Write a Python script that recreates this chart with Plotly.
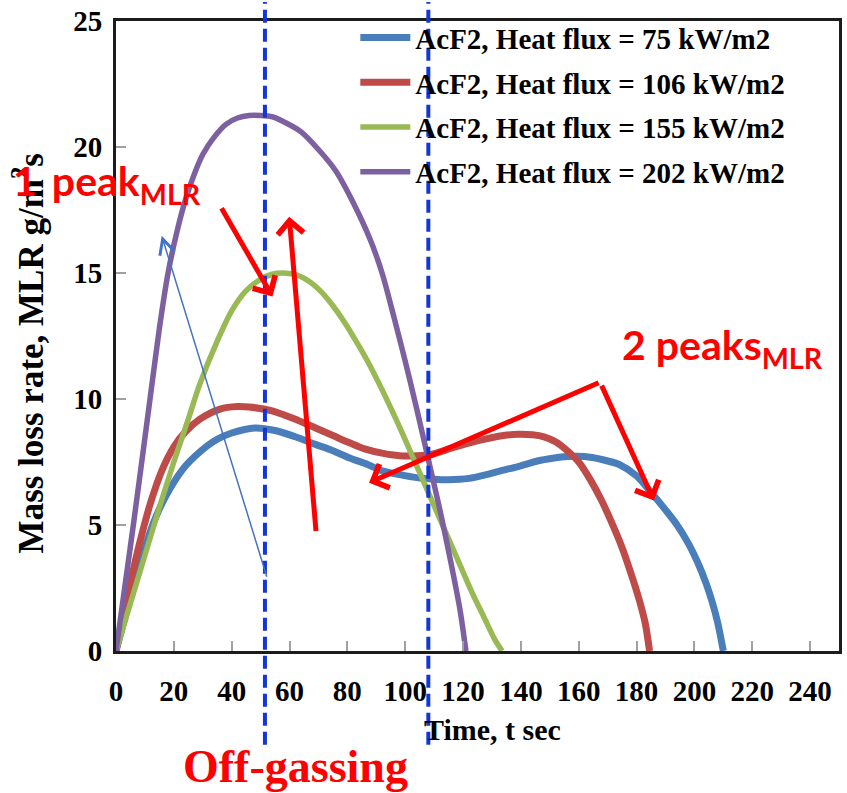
import plotly.graph_objects as go

# Mass loss rate of AcF2 at four heat fluxes
t_75 = [0, 3, 6, 10, 13, 17, 23, 29, 35, 40, 48, 55, 62, 69, 75, 81, 87, 92, 98, 104,
        110, 115, 122, 128, 133, 140, 146, 151, 156, 162, 168, 174, 180, 185, 190, 194,
        198, 201, 204, 206, 208, 210]
mlr_75 = [0, 1.3, 2.6, 4.1, 5.1, 6.1, 7.2, 7.9, 8.4, 8.65, 8.85, 8.75, 8.5, 8.2, 7.95, 7.65,
          7.4, 7.15, 7.0, 6.88, 6.82, 6.8, 6.85, 7.0, 7.15, 7.35, 7.55, 7.65, 7.72, 7.72,
          7.6, 7.4, 6.95, 6.3, 5.6, 5.0, 4.25, 3.55, 2.7, 2.0, 1.15, 0]

t_106 = [0, 4, 8, 12, 16, 20, 24, 29, 36, 42, 46, 54, 63, 69, 75, 81, 86, 92, 98, 104,
         109, 116, 122, 128, 134, 139, 144, 148, 152, 156, 160, 164, 168, 171, 175, 178,
         181, 183, 184.5]
mlr_106 = [0, 2.2, 4.2, 5.9, 7.2, 8.1, 8.7, 9.2, 9.6, 9.7, 9.68, 9.53, 9.15, 8.85, 8.55,
           8.25, 8.02, 7.85, 7.75, 7.75, 7.8, 8.05, 8.25, 8.42, 8.55, 8.6, 8.58, 8.5, 8.3,
           7.95, 7.5, 6.8, 5.95, 5.2, 4.1, 3.1, 2.0, 1.1, 0]

t_155 = [0, 5, 10, 15, 20, 25, 29, 35, 40, 45, 50, 54, 58, 63, 67, 71, 75, 79, 83, 87,
         91, 95, 99, 103, 107, 111, 115, 119, 123, 127, 131, 133.5]
mlr_155 = [0, 1.9, 3.8, 5.7, 7.5, 9.2, 10.6, 12.3, 13.5, 14.3, 14.75, 14.95, 15.0, 14.9,
           14.65, 14.25, 13.7, 13.05, 12.3, 11.5, 10.6, 9.65, 8.65, 7.6, 6.55, 5.5, 4.45,
           3.4, 2.35, 1.4, 0.45, 0]

t_202 = [0, 6, 12, 15, 18, 21, 24, 27, 30, 34, 38, 42, 46, 50, 54, 58, 64, 70, 76, 82,
         88, 92, 96, 100, 104, 108, 112, 116, 119, 121]
mlr_202 = [0, 5.0, 10.2, 12.8, 15.0, 16.6, 17.9, 18.9, 19.7, 20.4, 20.9, 21.15, 21.25,
           21.25, 21.2, 21.0, 20.6, 19.9, 19.05, 17.8, 16.3, 15.0, 13.3, 11.5, 9.6, 7.6,
           5.6, 3.4, 1.6, 0]

series_names = ["AcF2, Heat flux = 75 kW/m2", "AcF2, Heat flux = 106 kW/m2",
                "AcF2, Heat flux = 155 kW/m2", "AcF2, Heat flux = 202 kW/m2"]
series_colors = ["#4a7ebb", "#be4b48", "#98b954", "#7d60a0"]
series_widths = [7, 7, 5.5, 5.5]

# Start and end of the off-gassing stage (s)
offgas_bounds = [51.5, 108]

x_ticks = list(range(0, 241, 20))
y_ticks = [0, 5, 10, 15, 20, 25]

SERIF = "Liberation Serif, Times New Roman, serif"
SANS = "Lato, Calibri, sans-serif"
RED = "#ff0000"

fig = go.Figure()
for name, t, v, color, w in zip(series_names, [t_75, t_106, t_155, t_202],
                                [mlr_75, mlr_106, mlr_155, mlr_202],
                                series_colors, series_widths):
    fig.add_trace(go.Scatter(
        x=t, y=v, mode="lines", name=name, legendgroup=name,
        line=dict(color=color, width=w, shape="spline", smoothing=0.8),
    ))

# Dashed markers for the off-gassing window, running past the plot area
for xb in offgas_bounds:
    fig.add_shape(type="line", xref="x", yref="paper", x0=xb, x1=xb, y0=-0.149, y1=1.03,
                  line=dict(color="#1236d8", width=4, dash="13px,6px"), layer="above")

axis_common = dict(
    showline=True, linewidth=3, linecolor="#1c1c1c", mirror=True,
    ticks="inside", ticklen=10, tickwidth=1.5, tickcolor="#a0a0a0",
    showgrid=False, zeroline=False,
    tickfont=dict(family=SERIF, size=29, color="black", weight="bold"),
)

fig.update_layout(
    width=847, height=793,
    margin=dict(l=116, r=5, t=18, b=142),
    paper_bgcolor="white", plot_bgcolor="white",
    xaxis=dict(range=[0, 250], tickvals=x_ticks, ticklabelstandoff=12, **axis_common),
    yaxis=dict(range=[0, 25], tickvals=y_ticks, ticklabelstandoff=5, **axis_common),
    legend=dict(x=0.331, y=1.014, xanchor="left", yanchor="top",
                bgcolor="rgba(255,255,255,0)", borderwidth=0,
                font=dict(family=SERIF, size=29, color="black", weight="bold"),
                tracegroupgap=4, itemwidth=50),
    showlegend=True,
)

title_font = dict(family=SERIF, color="black", weight="bold")
annotations = [
    # axis titles first, so the red labels sit on top of them
    dict(text="Mass loss rate, MLR g/m<sup>2</sup>s", xref="paper", yref="paper",
         x=-0.1212, y=0.473, xanchor="center", yanchor="middle", textangle=-90,
         showarrow=False, font=dict(size=35, **title_font)),
    dict(text="Time, t sec", xref="paper", yref="paper", x=0.5207, y=-0.1249,
         xanchor="center", yanchor="middle", showarrow=False,
         font=dict(size=30, **title_font)),
    dict(text="1 \u2009peak<sub>MLR</sub>", xref="paper", yref="paper", x=-0.145, y=0.742,
         xanchor="left", yanchor="middle", showarrow=False,
         font=dict(family=SANS, size=41, color=RED, weight="bold")),
    dict(text="2 peaks<sub>MLR</sub>", xref="paper", yref="paper", x=0.697, y=0.482,
         xanchor="left", yanchor="middle", showarrow=False,
         font=dict(family=SANS, size=41, color=RED, weight="bold")),
    dict(text="Off-gassing", xref="paper", yref="paper", x=0.248, y=-0.183,
         xanchor="center", yanchor="middle", showarrow=False, borderpad=0,
         font=dict(family=SERIF, size=46, color=RED, weight="bold")),
]

# Pointer arrows (tail -> head) in data coordinates
red_arrows = [((36.2, 17.63), (54.1, 14.07)),
              ((69.2, 4.70), (59.9, 17.23)),
              ((167.4, 10.67), (87.5, 6.68)),
              ((167.7, 10.59), (186.0, 5.97))]
for (tx, ty), (hx, hy) in red_arrows:
    annotations.append(dict(text="", x=hx, y=hy, ax=tx, ay=ty, xref="x", yref="y",
                            axref="x", ayref="y", showarrow=True, arrowhead=4,
                            arrowsize=1, arrowwidth=5, arrowcolor=RED))
annotations.append(dict(text="", x=15.8, y=16.48, ax=52.3, ay=2.89, xref="x", yref="y",
                        axref="x", ayref="y", showarrow=True, arrowhead=5,
                        arrowsize=2, arrowwidth=1.5, arrowcolor="#4472c4"))

fig.update_layout(annotations=annotations)

fig.write_html("out.html")
